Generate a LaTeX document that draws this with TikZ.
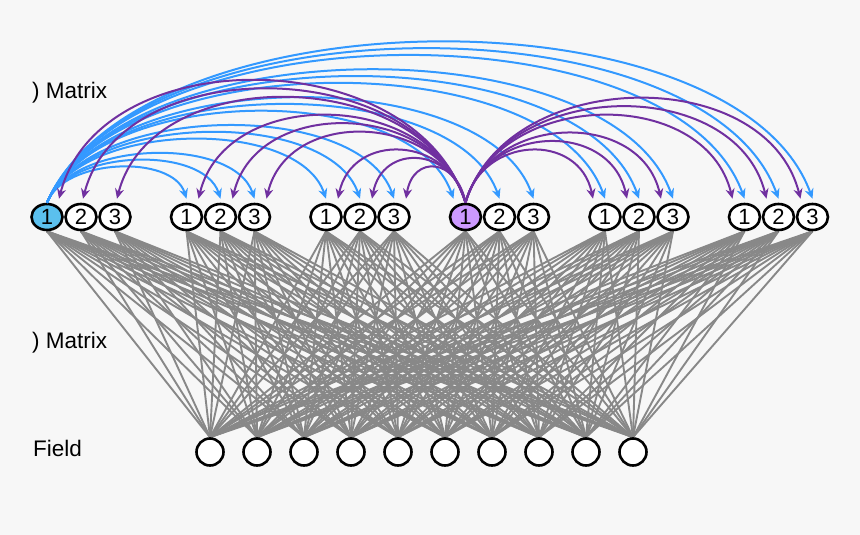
\documentclass[tikz,border=0pt]{standalone}
\usepackage{fontspec}
\setmainfont{Liberation Sans}
\usetikzlibrary{arrows.meta}
\usetikzlibrary{shapes.geometric, backgrounds}
\definecolor{col1}{HTML}{3399FF}
\definecolor{col2}{HTML}{7030A0}
\definecolor{col3}{HTML}{5BC0EE}
\definecolor{col4}{HTML}{CC99FF}
\definecolor{col5}{HTML}{888888}
\definecolor{col0}{HTML}{F7F7F7}

\begin{document}
\begin{tikzpicture}[x=1pt, y=-1pt]
    \tikzstyle{enb} += [draw=black, ellipse, line width=2.6pt, fill=white, minimum width=31pt, minimum height=26pt, inner sep=0pt, font=\fontsize{22}{22}\selectfont];
    \tikzstyle{cnb} += [draw=black, circle, line width=2.6pt, fill=white, minimum size=27pt, inner sep=0pt];
    \tikzstyle{lbl} += [anchor=base west, inner sep=0pt, font=\fontsize{22.5}{22.5}\selectfont];
    \useasboundingbox (0,0) rectangle (860,535);
    \node (m_11) at ( 47,   217) [enb, fill=col3] {1};
    \node (m_12) at ( 81,   217) [enb] {2};
    \node (m_13) at (115,   217) [enb] {3};
    \node (m_21) at (186.5, 217) [enb] {1};
    \node (m_22) at (220.5, 217) [enb] {2};
    \node (m_23) at (254.5, 217) [enb] {3};
    \node (m_31) at (326,   217) [enb] {1};
    \node (m_32) at (360,   217) [enb] {2};
    \node (m_33) at (394,   217) [enb] {3};
    \node (m_41) at (465.5, 217) [enb, fill=col4] {1};
    \node (m_42) at (499.5, 217) [enb] {2};
    \node (m_43) at (533.5, 217) [enb] {3};
    \node (m_51) at (605,   217) [enb] {1};
    \node (m_52) at (639,   217) [enb] {2};
    \node (m_53) at (673,   217) [enb] {3};
    \node (m_61) at (744.5, 217) [enb] {1};
    \node (m_62) at (778.5, 217) [enb] {2};
    \node (m_63) at (812.5, 217) [enb] {3};
    \node (f_1)  at (210, 452) [cnb] {};
    \node (f_2)  at (257, 452) [cnb] {};
    \node (f_3)  at (304, 452) [cnb] {};
    \node (f_4)  at (351, 452) [cnb] {};
    \node (f_5)  at (398, 452) [cnb] {};
    \node (f_6)  at (445, 452) [cnb] {};
    \node (f_7)  at (492, 452) [cnb] {};
    \node (f_8)  at (539, 452) [cnb] {};
    \node (f_9)  at (586, 452) [cnb] {};
    \node (f_10) at (633, 452) [cnb] {};
    \node (lab1) at (32,  99) [lbl] {) Matrix};
    \node (lab2) at (32, 348) [lbl] {) Matrix};
    \node (lab3) at (33, 456) [lbl] {Field};

    \begin{scope}[line width=2pt]
      % blue: from m_11 to every node of the other groups
      \foreach \g in {2,...,6}
        \foreach \k in {1,2,3} {
          \pgfmathsetmacro{\d}{139.5*(\g-1)+34*(\k-1)}
          \pgfmathsetmacro{\h}{(20+0.2*\d-14.5)/0.75}
          \pgfmathsetmacro{\o}{(\g==4)*(\k==1)*(-12)}
          \draw[col1, -{Stealth[length=10pt, width=9pt]}] (m_11.north)
            .. controls +(0.12*\d, -\h) and +(-0.1*\d, -\h) .. ([xshift=\o pt, yshift=4pt]m_\g\k.north);
        }
      % purple: from m_41 to every node of the other groups
      \foreach \g in {1,2,3,5,6}
        \foreach \k in {1,2,3} {
          \pgfmathsetmacro{\d}{139.5*(\g-1)+34*(\k-1)-418.5}
          \pgfmathsetmacro{\s}{sign(\d)}
          \pgfmathsetmacro{\a}{abs(\d)}
          \pgfmathsetmacro{\h}{(30+0.25*\a-14.5)/0.75}
          \pgfmathsetmacro{\c}{(\g==1)*(\k>1)}
          \pgfmathsetmacro{\o}{\c*2+(1-\c)*(-12*\s)}
          \draw[col2, -{Stealth[length=10pt, width=9pt]}] (m_41.north)
            .. controls +(0.12*\d, -\h) and +(-0.1*\d, -\h) .. ([xshift=\o pt, yshift=4pt]m_\g\k.north);
        }
    \end{scope}

    \begin{scope}[on background layer]
      \fill[col0] (0,0) rectangle (860,535);
      \foreach \g in {1,...,6}
        \foreach \k in {1,2,3}
          \foreach \i in {1,...,10}
            \draw[col5, line width=1.9pt] (m_\g\k.south) -- (f_\i.north);
    \end{scope}
\end{tikzpicture}
\end{document}
